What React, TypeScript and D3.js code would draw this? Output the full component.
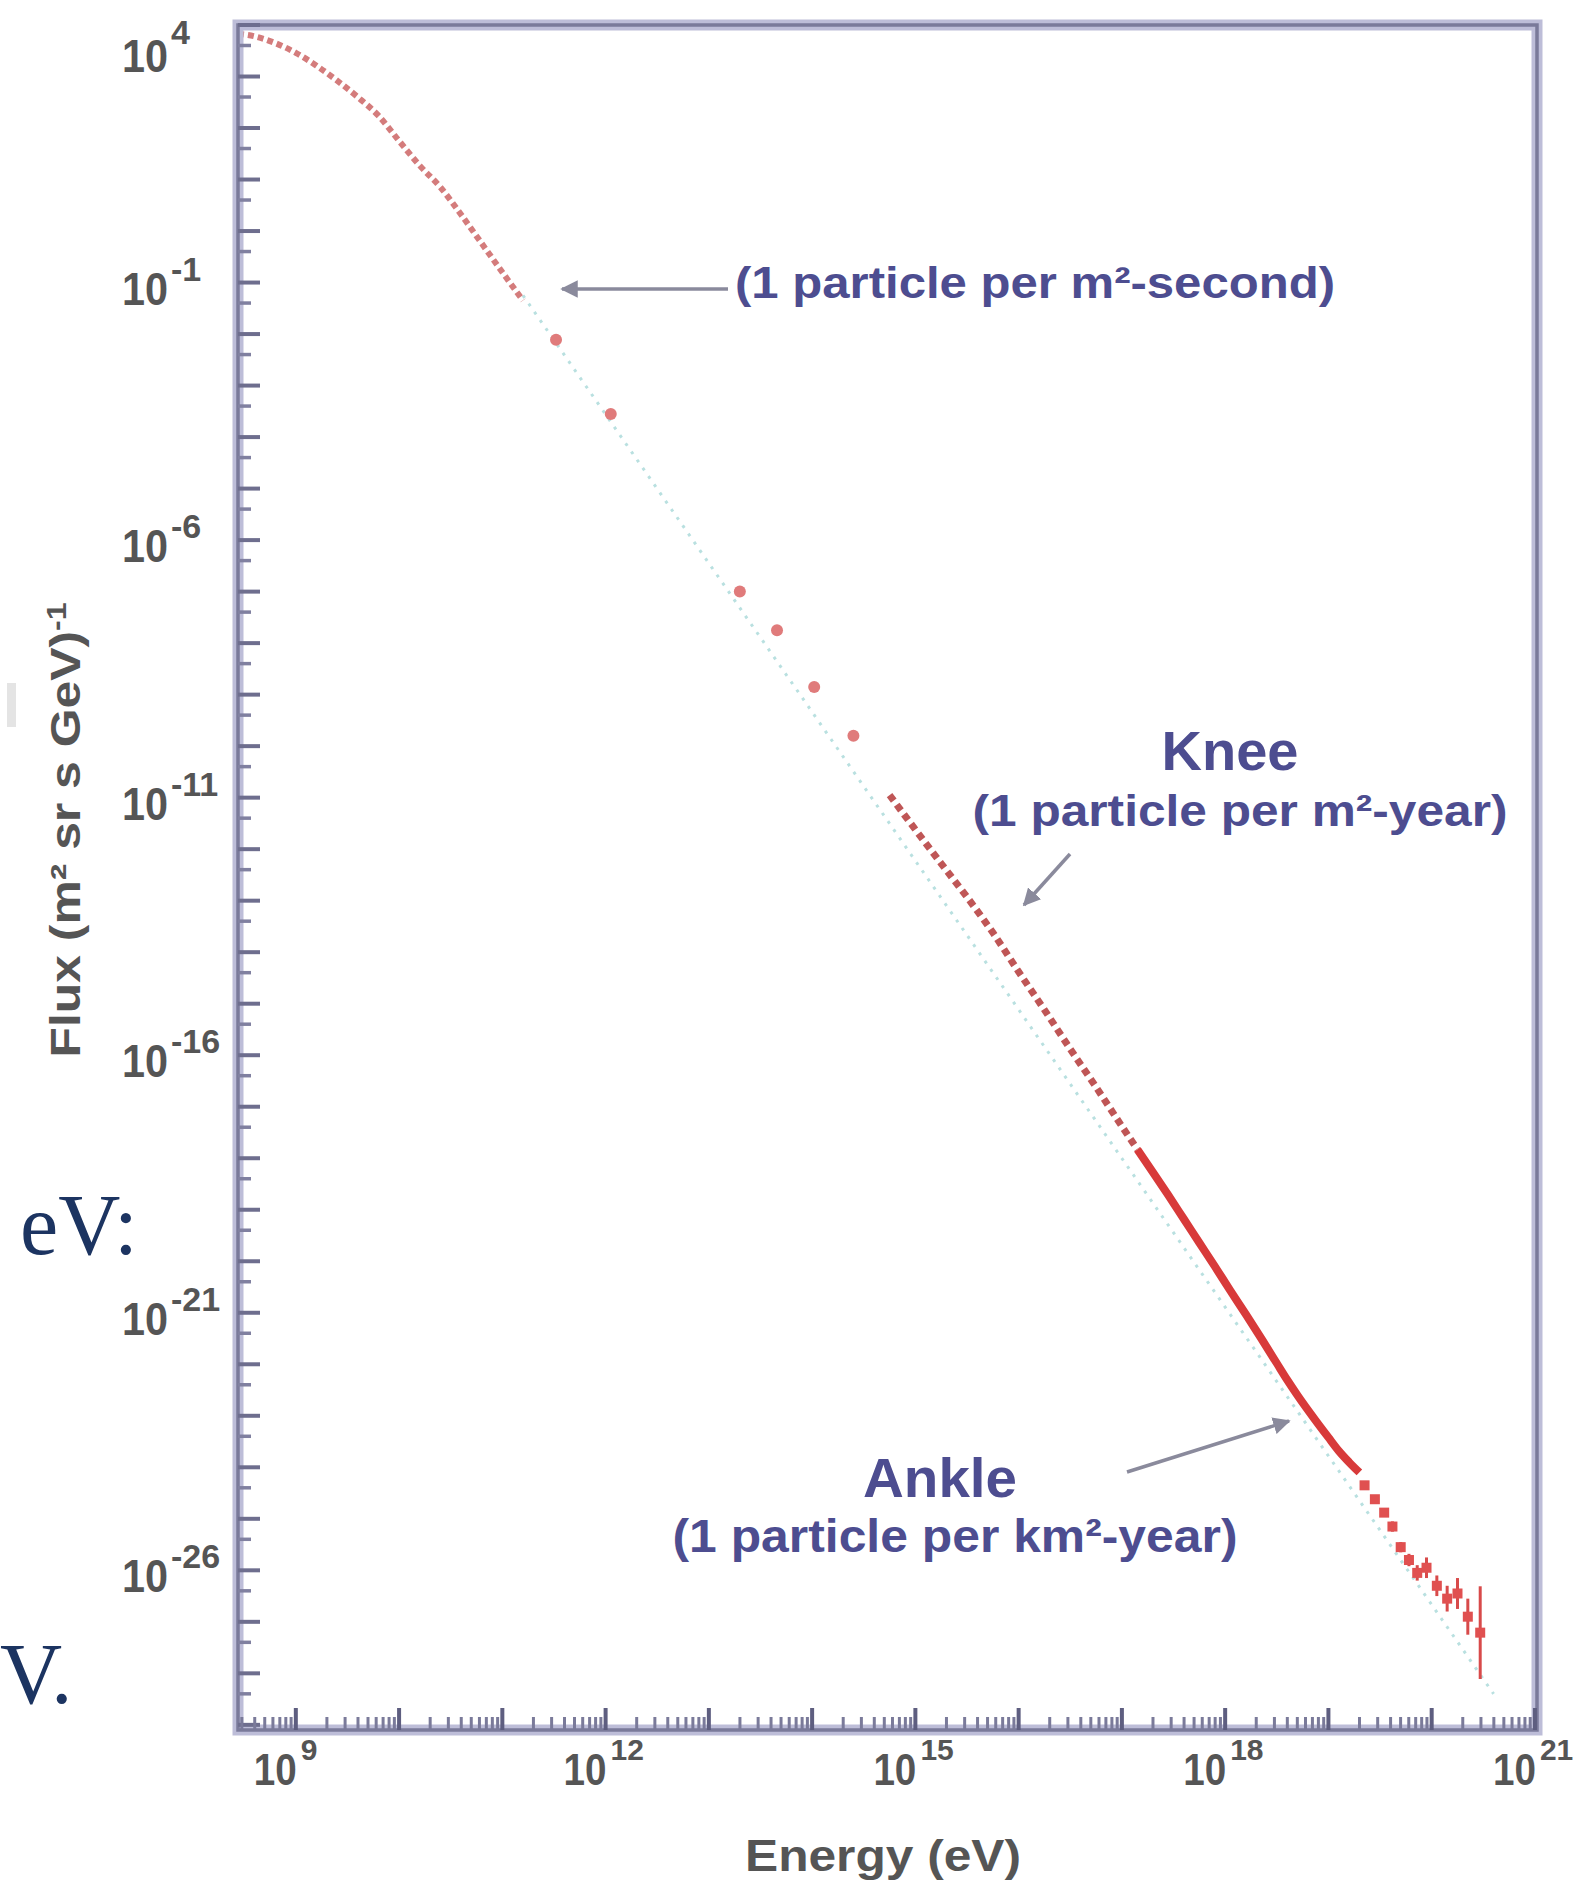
import React from "react";
import * as d3 from "d3";

const W = 1582;
const H = 1885;

// Cosmic-ray all-particle spectrum, stored as base-10 exponents.
// Low-energy part (solar-modulated turnover).
const lowLogE = [8.44, 8.6, 8.8, 9.0, 9.2, 9.4, 9.6, 9.8, 10.0, 10.2, 10.4, 10.6, 10.8, 11.0, 11.2];
const lowLogF = [3.83, 3.78, 3.65, 3.46, 3.21, 2.92, 2.6, 2.24, 1.75, 1.27, 0.85, 0.32, -0.24, -0.8, -1.35];

// Direct (balloon / satellite) measurements.
const directLogE = [11.52, 12.05, 13.3, 13.66, 14.02, 14.4];
const directLogF = [-2.11, -3.55, -7.0, -7.75, -8.85, -9.8];

// Air-shower data through the knee.
const kneeLogE = [14.75, 15.0, 15.25, 15.5, 15.75, 16.0, 16.25, 16.5, 16.75, 17.0, 17.15];
const kneeLogF = [-10.95, -11.62, -12.28, -12.93, -13.62, -14.38, -15.12, -15.88, -16.62, -17.38, -17.83];

// Air-shower data towards the ankle.
const ankleLogE = [17.15, 17.3, 17.45, 17.6, 17.75, 17.9, 18.05, 18.2, 18.35, 18.5, 18.6, 18.7, 18.85, 19.0, 19.1, 19.2, 19.3];
const ankleLogF = [-17.83, -18.27, -18.72, -19.18, -19.64, -20.1, -20.57, -21.03, -21.5, -21.98, -22.3, -22.6, -23.02, -23.42, -23.68, -23.9, -24.1];

// Highest-energy points with error bars (half-width in decades).
const tailLogE = [19.35, 19.45, 19.54, 19.62, 19.7, 19.78, 19.86, 19.95, 20.05, 20.15, 20.25, 20.35, 20.47];
const tailLogF = [-24.35, -24.62, -24.88, -25.15, -25.55, -25.8, -26.05, -25.95, -26.3, -26.55, -26.45, -26.9, -27.21];
const tailErr = [0.05, 0.06, 0.08, 0.1, 0.1, 0.12, 0.15, 0.2, 0.2, 0.25, 0.3, 0.35, 0.9];

// Reference power law E^-2.9.
const refLogE = [11.2, 20.6];
const refLogF = [-1.25, -28.4];

// Axis labels.
const xLabelExps = [9, 12, 15, 18, 21];
const yLabelExps = [4, -1, -6, -11, -16, -21, -26];
const xDecades = d3.range(8, 22);
const yDecades = d3.range(-30, 5);

const xScale = d3.scaleLog().domain([10 ** 8.44, 10 ** 21.02]).range([238, 1537]);
const yScale = d3.scaleLog().domain([10 ** -29.1, 10 ** 4]).range([1730, 25]);

const pairs = (es: number[], fs: number[]) => es.map((e, i) => [e, fs[i]] as [number, number]);
const line = d3
  .line<[number, number]>()
  .x((d) => xScale(10 ** d[0]))
  .y((d) => yScale(10 ** d[1]))
  .curve(d3.curveMonotoneX);

const inX = (v: number) => v >= xScale.domain()[0] && v <= xScale.domain()[1];
const inY = (v: number) => v >= yScale.domain()[0] && v <= yScale.domain()[1];

const ANN = "#4d4d90";
const LABEL = "#555";
const ARROW = "#8a8a9c";
const SANS = "'Liberation Sans', Arial, sans-serif";
const SERIF = "'Liberation Serif', 'Times New Roman', serif";

export default function App() {
  const x0 = 238, x1 = 1537, y0 = 25, y1 = 1730;

  const xMinor: number[] = [];
  xDecades.forEach((e) => {
    for (let k = 2; k <= 9; k++) {
      const v = k * 10 ** e;
      if (inX(v)) xMinor.push(v);
    }
  });
  const xMajor = xDecades.map((e) => 10 ** e).filter(inX);
  const yMajor = yDecades.map((e) => 10 ** e).filter(inY);
  const yMinor = yDecades.map((e) => 4 * 10 ** (e - 1)).filter(inY);

  return (
    <svg
      width={W}
      height={H}
      style={{ position: "absolute", left: 0, top: 0, background: "#fff" }}
      fontFamily={SANS}
    >
      <defs>
        <marker id="head" viewBox="0 0 10 10" refX="9" refY="5" markerWidth="5" markerHeight="5" orient="auto">
          <path d="M0,0 L10,5 L0,10 z" fill={ARROW} />
        </marker>
      </defs>
      <rect width={W} height={H} fill="#fff" />

      {/* stray slide fragments at the left edge */}
      <rect x={7} y={683} width={9} height={44} fill="#e4e4e4" />
      <text x={20} y={1254} fontFamily={SERIF} fontSize={86} fill="#1c3461">
        eV:
      </text>
      <text x={0} y={1703} fontFamily={SERIF} fontSize={86} fill="#1c3461">
        V.
      </text>

      {/* reference power law */}
      <path
        d={line(pairs(refLogE, refLogF)) || ""}
        fill="none"
        stroke="#b9e0e0"
        strokeWidth={3}
        strokeDasharray="3 7"
      />

      {/* low-energy spectrum */}
      <path
        d={line(pairs(lowLogE, lowLogF)) || ""}
        fill="none"
        stroke="#d47c7c"
        strokeWidth={6}
        strokeDasharray="6 4"
      />

      {/* direct measurements */}
      {directLogE.map((e, i) => (
        <circle key={"d" + i} cx={xScale(10 ** e)} cy={yScale(10 ** directLogF[i])} r={6} fill="#e07b7b" />
      ))}

      {/* knee region */}
      <path
        d={line(pairs(kneeLogE, kneeLogF)) || ""}
        fill="none"
        stroke="#bf5656"
        strokeWidth={7}
        strokeDasharray="7 5"
      />

      {/* ankle region */}
      <path d={line(pairs(ankleLogE, ankleLogF)) || ""} fill="none" stroke="#d83a3a" strokeWidth={8} />

      {/* highest energies */}
      {tailLogE.map((e, i) => {
        const cx = xScale(10 ** e);
        const cy = yScale(10 ** tailLogF[i]);
        return (
          <g key={"t" + i}>
            <line
              x1={cx}
              x2={cx}
              y1={yScale(10 ** (tailLogF[i] + tailErr[i]))}
              y2={yScale(10 ** (tailLogF[i] - tailErr[i]))}
              stroke="#d84a4a"
              strokeWidth={3}
            />
            <rect x={cx - 5} y={cy - 5} width={10} height={10} fill="#e05050" />
          </g>
        );
      })}

      {/* axis frame */}
      <rect x={x0} y={y0} width={x1 - x0} height={y1 - y0} fill="none" stroke="#bdbdd8" strokeWidth={11} />
      <rect x={x0} y={y0} width={x1 - x0} height={y1 - y0} fill="none" stroke="#7a7a9a" strokeWidth={3.5} />

      {/* y ticks */}
      {yMajor.map((v, i) => (
        <line key={"ym" + i} x1={x0} x2={x0 + 22} y1={yScale(v)} y2={yScale(v)} stroke="#6e6e8e" strokeWidth={4} />
      ))}
      {yMinor.map((v, i) => (
        <line key={"yn" + i} x1={x0} x2={x0 + 13} y1={yScale(v)} y2={yScale(v)} stroke="#8080a0" strokeWidth={3.5} />
      ))}

      {/* x ticks */}
      {xMajor.map((v, i) => (
        <line key={"xm" + i} x1={xScale(v)} x2={xScale(v)} y1={y1} y2={y1 - 22} stroke="#5e5e80" strokeWidth={4} />
      ))}
      {xMinor.map((v, i) => (
        <line key={"xn" + i} x1={xScale(v)} x2={xScale(v)} y1={y1} y2={y1 - 13} stroke="#7a7a9a" strokeWidth={3} />
      ))}

      {/* y tick labels */}
      {yLabelExps.map((e) => {
        const y = yScale(10 ** e);
        return (
          <g key={"yl" + e} fill={LABEL} fontWeight="bold">
            <text x={122} y={Math.max(y + 22, 72)} fontSize={46} textLength={46} lengthAdjust="spacingAndGlyphs">
              10
            </text>
            <text x={171} y={Math.max(y - 2, 44)} fontSize={34}>
              {String(e)}
            </text>
          </g>
        );
      })}

      {/* x tick labels */}
      {xLabelExps.map((e) => {
        const x = xScale(10 ** e);
        return (
          <g key={"xl" + e} fill={LABEL} fontWeight="bold">
            <text x={x - 42} y={1785} fontSize={44} textLength={43} lengthAdjust="spacingAndGlyphs">
              10
            </text>
            <text x={x + 5} y={1760} fontSize={30}>
              {String(e)}
            </text>
          </g>
        );
      })}

      {/* axis titles */}
      <text
        x={883}
        y={1871}
        fontSize={44}
        fontWeight="bold"
        fill={LABEL}
        textAnchor="middle"
        textLength={276}
        lengthAdjust="spacingAndGlyphs"
      >
        Energy (eV)
      </text>
      <text
        transform="translate(80,830) rotate(-90)"
        fontSize={42}
        fontWeight="bold"
        fill={LABEL}
        textAnchor="middle"
        textLength={455}
        lengthAdjust="spacingAndGlyphs"
      >
        Flux (m² sr s GeV)
        <tspan dy={-14} fontSize={27}>-1</tspan>
      </text>

      {/* annotations */}
      <line x1={728} y1={289} x2={562} y2={289} stroke={ARROW} strokeWidth={3.5} markerEnd="url(#head)" />
      <text x={735} y={298} fontSize={44} fontWeight="bold" fill={ANN} textLength={600} lengthAdjust="spacingAndGlyphs">
        (1 particle per m²-second)
      </text>

      <text x={1230} y={770} fontSize={56} fontWeight="bold" fill={ANN} textAnchor="middle" textLength={137} lengthAdjust="spacingAndGlyphs">
        Knee
      </text>
      <text x={1240} y={826} fontSize={45} fontWeight="bold" fill={ANN} textAnchor="middle" textLength={535} lengthAdjust="spacingAndGlyphs">
        (1 particle per m²-year)
      </text>
      <line x1={1070} y1={854} x2={1024} y2={905} stroke={ARROW} strokeWidth={3.5} markerEnd="url(#head)" />

      <text x={940} y={1497} fontSize={55} fontWeight="bold" fill={ANN} textAnchor="middle" textLength={154} lengthAdjust="spacingAndGlyphs">
        Ankle
      </text>
      <text x={955} y={1552} fontSize={46} fontWeight="bold" fill={ANN} textAnchor="middle" textLength={565} lengthAdjust="spacingAndGlyphs">
        (1 particle per km²-year)
      </text>
      <line x1={1127} y1={1472} x2={1289} y2={1421} stroke={ARROW} strokeWidth={3.5} markerEnd="url(#head)" />
    </svg>
  );
}
